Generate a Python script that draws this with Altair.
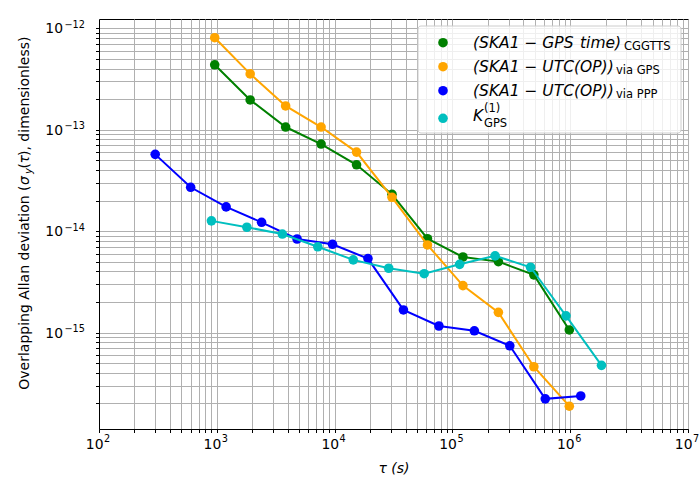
import altair as alt
import pandas as pd

# ---------------- data ----------------
tau_cgg = [960, 1920, 3840, 7680, 15360, 30720, 61440, 122880, 245760, 491520, 983040]
adev_cgg = [4.35e-13, 1.96e-13, 1.06e-13, 7.2e-14, 4.5e-14, 2.3e-14, 8.4e-15,
            5.55e-15, 5.0e-15, 3.7e-15, 1.06e-15]

tau_gps = [960, 1920, 3840, 7680, 15360, 30720, 61440, 122880, 245760, 491520, 983040]
adev_gps = [8.05e-13, 3.54e-13, 1.71e-13, 1.06e-13, 6.0e-14, 2.15e-14, 7.3e-15,
            2.9e-15, 1.58e-15, 4.6e-16, 1.88e-16]

tau_ppp = [300, 600, 1200, 2400, 4800, 9600, 19200, 38400, 76800, 153600,
           307200, 614400, 1228800]
adev_ppp = [5.7e-14, 2.7e-14, 1.73e-14, 1.22e-14, 8.35e-15, 7.4e-15, 5.35e-15,
            1.67e-15, 1.16e-15, 1.04e-15, 7.4e-16, 2.22e-16, 2.37e-16]

tau_k = [900, 1800, 3600, 7200, 14400, 28800, 57600, 115200, 230400, 460800,
         921600, 1843200]
adev_k = [1.26e-14, 1.09e-14, 9.35e-15, 7.0e-15, 5.2e-15, 4.3e-15, 3.8e-15,
          4.7e-15, 5.7e-15, 4.4e-15, 1.46e-15, 4.75e-16]

series_names = ["cggtts", "via_gps", "via_ppp", "k_gps"]
series_colors = ["#008000", "#ffa500", "#0000ff", "#00bfbf"]
series_tau = [tau_cgg, tau_gps, tau_ppp, tau_k]
series_adev = [adev_cgg, adev_gps, adev_ppp, adev_k]

# major tick labels
x_major = [1e2, 1e3, 1e4, 1e5, 1e6, 1e7]
x_major_exp = ["2", "3", "4", "5", "6", "7"]
y_major = [1e-15, 1e-14, 1e-13, 1e-12]
y_major_exp = ["−15", "−14", "−13", "−12"]

# ---------------- layout ----------------
FONT = "DejaVu Sans"
W, H = 589, 410
PAD = {"left": 99, "top": 19, "right": 11, "bottom": 52}
XDOM = [1e2, 1e7]
YDOM = [1.12e-16, 1.23e-12]


def tick_values(lo, hi, e0, e1):
    vals = []
    for e in range(e0, e1 + 1):
        for m in range(1, 10):
            v = float(f"{m}e{e}")
            if lo * (1 - 1e-9) <= v <= hi * (1 + 1e-9):
                vals.append(v)
    return vals


common_axis = dict(
    grid=True, gridColor="#b0b0b0", gridWidth=1, gridOpacity=1,
    tickColor="black", tickSize=3.5, tickWidth=1,
    domainColor="black", domainWidth=1, labels=False,
)

x_axis = alt.Axis(
    values=tick_values(XDOM[0], XDOM[1], 2, 7),
    title="τ (s)", titleFont=FONT, titleFontSize=14, titleFontStyle="italic",
    titleFontWeight="normal", titleColor="black", titleY=43,
    titleBaseline="alphabetic",
    **common_axis,
)
y_axis = alt.Axis(
    values=tick_values(YDOM[0], YDOM[1], -16, -12),
    title=None,
    **common_axis,
)

xs = alt.Scale(type="log", domain=XDOM, nice=False)
ys = alt.Scale(type="log", domain=YDOM, nice=False)
x_enc = alt.X("tau:Q", scale=xs, axis=x_axis)
y_enc = alt.Y("adev:Q", scale=ys, axis=y_axis)

layers = []
for name, col, taus, adevs in zip(series_names, series_colors, series_tau, series_adev):
    df = pd.DataFrame({"tau": taus, "adev": adevs, "series": name})
    base = alt.Chart(df).encode(x=x_enc, y=y_enc)
    layers.append(base.mark_line(color=col, strokeWidth=2))
    layers.append(base.mark_circle(color=col, size=92, opacity=1))

# tick labels "10" with a raised exponent, placed through the scales
TFS, EFS = 13.9, 9.7
xl = pd.DataFrame({"tau": x_major, "e": x_major_exp})
layers.append(
    alt.Chart(xl).mark_text(text="10", font=FONT, fontSize=TFS, align="right",
                            baseline="alphabetic", dx=4.5, color="black")
    .encode(x=alt.X("tau:Q", scale=xs, axis=x_axis), y=alt.value(448.5 - PAD["top"]))
)
layers.append(
    alt.Chart(xl).mark_text(font=FONT, fontSize=EFS, align="left",
                            baseline="alphabetic", dx=5, color="black")
    .encode(x=alt.X("tau:Q", scale=xs, axis=x_axis), y=alt.value(442 - PAD["top"]),
            text="e:N")
)
yl = pd.DataFrame({"adev": y_major, "e": y_major_exp})
layers.append(
    alt.Chart(yl).mark_text(text="10", font=FONT, fontSize=TFS, align="right",
                            baseline="alphabetic", dy=5, color="black")
    .encode(y=alt.Y("adev:Q", scale=ys, axis=y_axis), x=alt.value(63 - PAD["left"]))
)
layers.append(
    alt.Chart(yl).mark_text(font=FONT, fontSize=EFS, align="left",
                            baseline="alphabetic", dy=-0.5, color="black")
    .encode(y=alt.Y("adev:Q", scale=ys, axis=y_axis), x=alt.value(64.5 - PAD["left"]),
            text="e:N")
)

one = pd.DataFrame({"k": [0]})


def txt(text, px, py, size=14, style="normal", angle=0, align="left", color="black"):
    return alt.Chart(one).mark_text(
        text=text, font=FONT, fontSize=size, fontStyle=style, angle=angle,
        align=align, baseline="alphabetic", color=color,
    ).encode(x=alt.value(px - PAD["left"]), y=alt.value(py - PAD["top"]))


# y-axis title (rotated, composed so that the subscript can be lowered)
YT_X = 28.5
layers += [
    txt("Overlapping Allan deviation (", YT_X, 185.5, angle=270, align="right"),
    txt("σ", YT_X, 185, style="italic", angle=270),
    txt("y", YT_X + 3, 174, size=10, style="italic", angle=270),
    txt("(", YT_X, 168.5, angle=270),
    txt("τ", YT_X, 163.5, style="italic", angle=270),
    txt("), dimensionless)", YT_X, 156, angle=270),
]

# legend
legend_box = alt.Chart(one).mark_rect(
    fill="white", fillOpacity=0.8, stroke="#cccccc", strokeWidth=1, cornerRadius=3
).encode(
    x=alt.value(418 - PAD["left"]), x2=alt.value(681 - PAD["left"]),
    y=alt.value(26 - PAD["top"]), y2=alt.value(133 - PAD["top"]),
)
layers.append(legend_box)

marker_y = [42.7, 66.7, 90.7, 118.3]
for col, my in zip(series_colors, marker_y):
    layers.append(
        alt.Chart(one).mark_circle(color=col, size=92, opacity=1).encode(
            x=alt.value(443 - PAD["left"]), y=alt.value(my - PAD["top"])
        )
    )

LFS, SFS = 15.5, 11.5
layers += [
    txt("(SKA1 − GPS", 473, 47.5, size=LFS, style="italic"),
    txt("time)", 580, 47.5, size=LFS, style="italic"),
    txt("CGGTTS", 624, 49.5, size=SFS),
    txt("(SKA1 − UTC(OP))", 473, 71.5, size=LFS, style="italic"),
    txt("via GPS", 616, 73.5, size=SFS),
    txt("(SKA1 − UTC(OP))", 473, 95.5, size=LFS, style="italic"),
    txt("via PPP", 616, 97.5, size=SFS),
    txt("K", 473, 121, size=LFS, style="italic"),
    txt("(1)", 484, 111.5, size=SFS),
    txt("GPS", 484, 127, size=SFS),
]

chart = alt.layer(*layers).properties(
    width=W, height=H,
    autosize=alt.AutoSizeParams(type="none"),
    padding=PAD,
    background="white",
).configure_view(stroke="black", strokeWidth=1)

chart.save("out.html", embed_options={"renderer": "svg", "actions": False})
